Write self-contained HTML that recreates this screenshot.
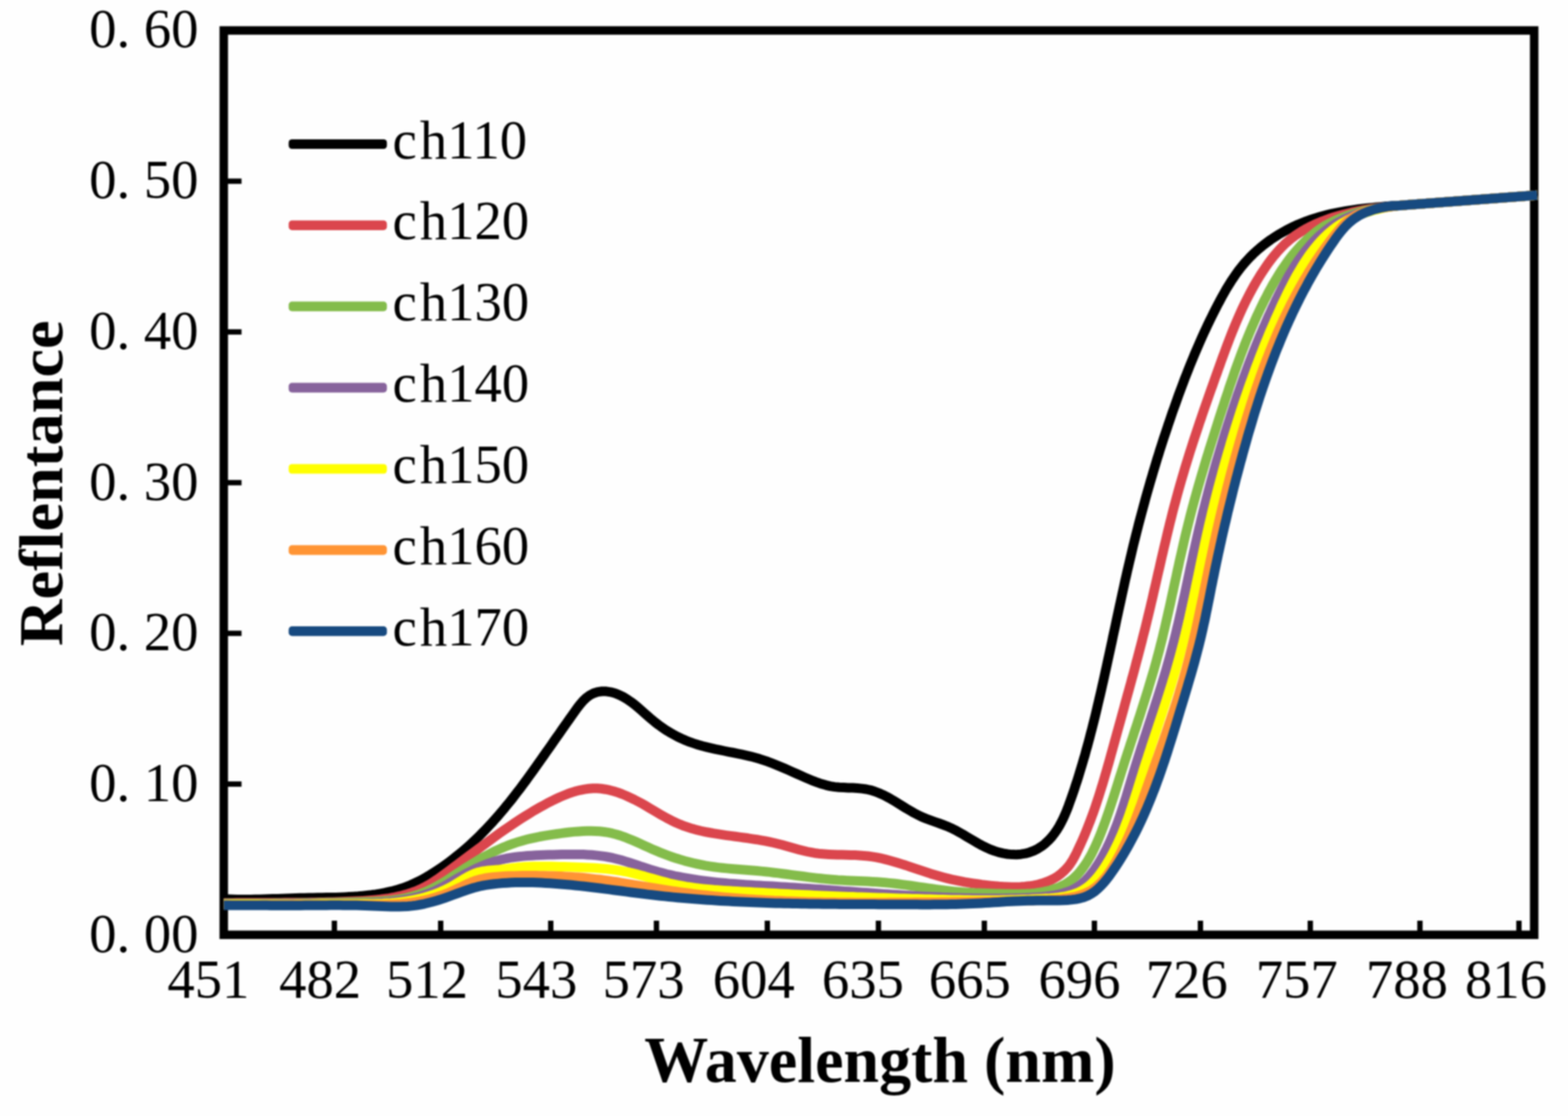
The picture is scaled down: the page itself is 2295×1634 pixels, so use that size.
<!DOCTYPE html>
<html lang="en">
<head>
<meta charset="utf-8">
<title>Reflentance vs Wavelength (nm)</title>
<style>
html,body{margin:0;padding:0;background:#fefefe;}
body{width:2295px;height:1634px;overflow:hidden;}
svg{display:block;filter:blur(0.9px);}
.t{font-family:"Liberation Serif","Noto Serif CJK SC",serif;font-size:80px;fill:#000;}
.b{font-family:"Liberation Serif",serif;font-weight:bold;fill:#000;}
.c path{fill:none;stroke-width:14.0;stroke-linejoin:round;stroke-linecap:butt;}
</style>
</head>
<body>
<svg width="2295" height="1634" viewBox="0 0 2295 1634">
<rect width="2295" height="1634" fill="#fefefe"/>
<rect x="327.5" y="44.6" width="1918.0" height="1324.1000000000001" fill="none" stroke="#000" stroke-width="12.4" stroke-linejoin="miter"/>
<g fill="#000">
<rect x="327.5" y="261.4" width="26" height="7.8"/>
<rect x="327.5" y="482.1" width="26" height="7.8"/>
<rect x="327.5" y="702.8" width="26" height="7.8"/>
<rect x="327.5" y="923.4" width="26" height="7.8"/>
<rect x="327.5" y="1144.1" width="26" height="7.8"/>
<rect x="485.5" y="1348" width="7.8" height="16"/>
<rect x="641.1" y="1348" width="7.8" height="16"/>
<rect x="802.2" y="1348" width="7.8" height="16"/>
<rect x="956.9" y="1348" width="7.8" height="16"/>
<rect x="1119.2" y="1348" width="7.8" height="16"/>
<rect x="1281.8" y="1348" width="7.8" height="16"/>
<rect x="1436.8" y="1348" width="7.8" height="16"/>
<rect x="1597.9" y="1348" width="7.8" height="16"/>
<rect x="1753.1" y="1348" width="7.8" height="16"/>
<rect x="1913.9" y="1348" width="7.8" height="16"/>
<rect x="2074.4" y="1348" width="7.8" height="16"/>
<rect x="2219.3" y="1348" width="7.8" height="16"/>
</g>
<g class="c">
<path d="M327.5 1316.6 L334.1 1316.6 L340.6 1316.8 L347.2 1316.9 L353.8 1317.0 L360.3 1317.0 L366.9 1316.9 L373.4 1316.8 L380.0 1316.7 L386.5 1316.5 L393.1 1316.3 L399.6 1316.1 L406.2 1315.9 L412.7 1315.7 L419.3 1315.4 L425.8 1315.2 L432.4 1315.0 L438.9 1314.8 L445.5 1314.7 L452.1 1314.5 L458.6 1314.4 L465.2 1314.3 L471.7 1314.2 L478.3 1314.1 L484.8 1314.0 L491.4 1313.9 L498.0 1313.7 L504.5 1313.4 L511.1 1313.1 L517.6 1312.7 L524.1 1312.3 L530.7 1311.7 L537.2 1311.0 L543.7 1310.3 L550.2 1309.4 L556.7 1308.3 L563.1 1307.1 L569.6 1305.7 L575.9 1304.2 L582.3 1302.4 L588.5 1300.5 L594.7 1298.3 L600.7 1295.9 L606.7 1293.2 L612.6 1290.4 L618.4 1287.3 L624.2 1284.1 L629.8 1280.8 L635.4 1277.3 L640.9 1273.7 L646.3 1270.0 L651.7 1266.2 L657.0 1262.3 L662.2 1258.4 L667.3 1254.3 L672.4 1250.2 L677.4 1246.0 L682.4 1241.7 L687.3 1237.4 L692.1 1233.0 L696.8 1228.5 L701.5 1223.9 L706.1 1219.3 L710.7 1214.6 L715.2 1209.8 L719.7 1205.0 L724.0 1200.2 L728.4 1195.3 L732.6 1190.3 L736.9 1185.3 L741.0 1180.2 L745.2 1175.1 L749.3 1170.0 L753.3 1164.8 L757.3 1159.6 L761.3 1154.4 L765.2 1149.1 L769.2 1143.8 L773.0 1138.5 L776.9 1133.2 L780.7 1127.9 L784.5 1122.5 L788.3 1117.2 L792.1 1111.8 L795.9 1106.4 L799.6 1101.1 L803.4 1095.7 L807.1 1090.4 L810.8 1085.0 L814.6 1079.7 L818.3 1074.4 L822.0 1069.0 L825.8 1063.7 L829.6 1058.3 L833.4 1052.9 L837.2 1047.5 L841.1 1041.9 L845.1 1036.4 L849.2 1031.1 L853.5 1026.1 L858.2 1021.6 L863.3 1017.9 L868.9 1015.0 L874.8 1013.1 L881.0 1012.2 L887.4 1012.3 L893.8 1013.3 L900.2 1015.0 L906.3 1017.5 L912.2 1020.4 L917.8 1023.7 L923.2 1027.4 L928.5 1031.4 L933.6 1035.7 L938.6 1040.0 L943.6 1044.4 L948.5 1048.8 L953.6 1053.2 L958.7 1057.4 L963.9 1061.4 L969.3 1065.2 L974.7 1068.9 L980.3 1072.3 L985.9 1075.5 L991.6 1078.6 L997.5 1081.4 L1003.4 1084.0 L1009.5 1086.4 L1015.6 1088.5 L1021.8 1090.5 L1028.0 1092.3 L1034.4 1093.9 L1040.7 1095.4 L1047.2 1096.9 L1053.6 1098.2 L1060.1 1099.5 L1066.6 1100.8 L1073.1 1102.0 L1079.5 1103.3 L1086.0 1104.7 L1092.4 1106.1 L1098.8 1107.6 L1105.2 1109.3 L1111.5 1111.1 L1117.7 1113.1 L1123.9 1115.2 L1130.0 1117.5 L1136.1 1119.9 L1142.2 1122.4 L1148.2 1125.0 L1154.2 1127.6 L1160.2 1130.3 L1166.2 1133.0 L1172.2 1135.7 L1178.2 1138.3 L1184.2 1140.9 L1190.3 1143.4 L1196.4 1145.7 L1202.6 1147.8 L1208.9 1149.6 L1215.2 1151.1 L1221.7 1152.1 L1228.3 1152.8 L1234.9 1153.1 L1241.5 1153.4 L1248.1 1153.6 L1254.7 1154.0 L1261.3 1154.6 L1267.7 1155.5 L1274.0 1156.8 L1280.1 1158.7 L1286.1 1161.0 L1292.0 1163.6 L1297.8 1166.5 L1303.6 1169.7 L1309.3 1173.1 L1314.9 1176.5 L1320.5 1180.0 L1326.1 1183.5 L1331.8 1186.8 L1337.5 1190.1 L1343.3 1193.1 L1349.1 1196.0 L1355.2 1198.5 L1361.3 1200.8 L1367.5 1203.0 L1373.7 1205.1 L1379.8 1207.4 L1385.9 1209.7 L1391.9 1212.3 L1397.8 1215.2 L1403.5 1218.3 L1409.2 1221.5 L1414.8 1224.9 L1420.4 1228.2 L1426.0 1231.6 L1431.7 1234.9 L1437.4 1238.0 L1443.3 1240.9 L1449.3 1243.6 L1455.4 1245.9 L1461.7 1247.9 L1468.2 1249.4 L1474.7 1250.5 L1481.3 1251.1 L1487.8 1251.2 L1494.3 1250.7 L1500.7 1249.7 L1507.0 1247.9 L1513.1 1245.6 L1519.0 1242.7 L1524.5 1239.2 L1529.7 1235.2 L1534.5 1230.7 L1539.0 1225.9 L1543.0 1220.8 L1546.7 1215.5 L1550.2 1209.9 L1553.3 1204.2 L1556.2 1198.4 L1558.9 1192.4 L1561.4 1186.4 L1563.8 1180.2 L1566.0 1174.0 L1568.2 1167.8 L1570.4 1161.6 L1572.5 1155.4 L1574.5 1149.1 L1576.6 1142.9 L1578.6 1136.6 L1580.5 1130.3 L1582.4 1124.0 L1584.3 1117.7 L1586.1 1111.5 L1588.0 1105.2 L1589.7 1098.8 L1591.5 1092.5 L1593.2 1086.2 L1594.9 1079.9 L1596.5 1073.5 L1598.2 1067.2 L1599.8 1060.8 L1601.4 1054.5 L1603.0 1048.1 L1604.5 1041.8 L1606.0 1035.4 L1607.5 1029.0 L1609.0 1022.6 L1610.5 1016.3 L1612.0 1009.9 L1613.4 1003.5 L1614.9 997.1 L1616.3 990.7 L1617.7 984.3 L1619.1 977.9 L1620.5 971.5 L1621.9 965.1 L1623.3 958.6 L1624.7 952.2 L1626.1 945.8 L1627.5 939.4 L1628.8 933.0 L1630.2 926.6 L1631.6 920.2 L1633.0 913.7 L1634.3 907.3 L1635.7 900.9 L1637.1 894.5 L1638.5 888.1 L1639.9 881.7 L1641.3 875.2 L1642.7 868.8 L1644.1 862.4 L1645.5 856.0 L1646.9 849.6 L1648.4 843.2 L1649.8 836.8 L1651.3 830.4 L1652.8 824.0 L1654.3 817.6 L1655.8 811.3 L1657.3 804.9 L1658.8 798.5 L1660.4 792.1 L1662.0 785.8 L1663.6 779.4 L1665.2 773.1 L1666.8 766.7 L1668.5 760.4 L1670.2 754.0 L1671.9 747.7 L1673.6 741.4 L1675.3 735.1 L1677.0 728.7 L1678.8 722.4 L1680.6 716.1 L1682.4 709.8 L1684.2 703.5 L1686.1 697.2 L1687.9 691.0 L1689.8 684.7 L1691.7 678.4 L1693.6 672.1 L1695.6 665.9 L1697.5 659.6 L1699.5 653.4 L1701.5 647.2 L1703.5 640.9 L1705.6 634.7 L1707.7 628.5 L1709.7 622.3 L1711.9 616.0 L1714.0 609.8 L1716.1 603.6 L1718.3 597.5 L1720.5 591.3 L1722.7 585.1 L1724.9 578.9 L1727.2 572.8 L1729.5 566.6 L1731.8 560.5 L1734.1 554.3 L1736.5 548.2 L1738.9 542.1 L1741.3 536.0 L1743.8 529.9 L1746.3 523.8 L1748.8 517.8 L1751.4 511.7 L1754.0 505.7 L1756.6 499.7 L1759.3 493.7 L1762.0 487.7 L1764.8 481.8 L1767.5 475.8 L1770.4 469.9 L1773.3 464.0 L1776.2 458.1 L1779.2 452.3 L1782.2 446.4 L1785.3 440.6 L1788.4 434.8 L1791.6 429.1 L1794.8 423.4 L1798.2 417.8 L1801.7 412.2 L1805.3 406.8 L1809.0 401.4 L1812.8 396.1 L1816.8 391.0 L1820.9 386.0 L1825.3 381.1 L1829.8 376.3 L1834.4 371.7 L1839.2 367.3 L1844.2 363.0 L1849.2 358.9 L1854.5 354.9 L1859.8 351.0 L1865.3 347.4 L1870.8 343.8 L1876.5 340.5 L1882.2 337.3 L1888.1 334.3 L1894.0 331.4 L1899.9 328.7 L1906.0 326.2 L1912.1 323.8 L1918.2 321.7 L1924.4 319.6 L1930.6 317.8 L1936.9 316.0 L1943.2 314.4 L1949.5 312.9 L1955.9 311.6 L1962.3 310.3 L1968.8 309.2 L1975.2 308.1 L1981.7 307.2 L1988.2 306.3 L1994.7 305.5 L2001.3 304.7 L2007.8 304.1 L2014.4 303.5 L2021.0 302.9 L2027.6 302.3 L2034.2 301.8 L2048.0 300.9 L2060.0 300.0 L2160.0 292.5 L2250.0 285.8" stroke="#000000"/>
<path d="M327.5 1321.9 L333.8 1321.9 L340.2 1321.9 L346.7 1321.8 L353.1 1321.8 L359.4 1321.8 L365.8 1321.8 L372.2 1321.8 L378.6 1321.7 L384.9 1321.7 L391.3 1321.7 L397.6 1321.7 L404.0 1321.7 L410.3 1321.7 L416.7 1321.6 L423.0 1321.6 L429.3 1321.6 L435.7 1321.5 L442.0 1321.5 L448.3 1321.4 L454.7 1321.3 L461.0 1321.2 L467.4 1321.1 L473.7 1321.0 L480.1 1320.8 L486.5 1320.7 L492.8 1320.5 L499.2 1320.3 L505.6 1320.0 L512.0 1319.8 L518.4 1319.5 L524.9 1319.2 L531.3 1318.9 L537.7 1318.5 L544.1 1318.0 L550.5 1317.4 L556.9 1316.8 L563.2 1316.0 L569.5 1315.1 L575.8 1314.0 L582.0 1312.7 L588.1 1311.3 L594.2 1309.6 L600.1 1307.8 L606.0 1305.7 L611.8 1303.4 L617.5 1300.8 L623.1 1297.9 L628.6 1294.8 L634.0 1291.4 L639.3 1287.9 L644.6 1284.2 L649.8 1280.4 L655.0 1276.6 L660.1 1272.7 L665.3 1268.8 L670.4 1265.0 L675.6 1261.2 L680.7 1257.3 L685.9 1253.5 L691.0 1249.7 L696.1 1245.9 L701.1 1242.1 L706.2 1238.4 L711.3 1234.6 L716.4 1230.8 L721.5 1227.1 L726.6 1223.4 L731.7 1219.7 L736.9 1216.1 L742.1 1212.5 L747.3 1208.9 L752.5 1205.4 L757.8 1201.9 L763.1 1198.4 L768.5 1195.0 L773.9 1191.7 L779.3 1188.3 L784.8 1185.1 L790.4 1181.9 L796.1 1178.8 L801.8 1175.7 L807.6 1172.7 L813.4 1169.9 L819.3 1167.1 L825.3 1164.6 L831.3 1162.2 L837.3 1160.1 L843.4 1158.3 L849.5 1156.8 L855.6 1155.6 L861.7 1154.8 L867.9 1154.3 L874.0 1154.3 L880.1 1154.8 L886.3 1155.7 L892.4 1156.9 L898.4 1158.5 L904.5 1160.4 L910.5 1162.6 L916.5 1165.1 L922.4 1167.8 L928.2 1170.6 L934.0 1173.6 L939.7 1176.7 L945.3 1179.9 L950.8 1183.2 L956.4 1186.5 L961.9 1189.7 L967.3 1192.9 L972.8 1196.0 L978.4 1199.1 L984.0 1201.9 L989.6 1204.6 L995.4 1207.1 L1001.2 1209.4 L1007.2 1211.4 L1013.2 1213.3 L1019.3 1214.9 L1025.5 1216.5 L1031.7 1217.8 L1038.0 1219.0 L1044.3 1220.2 L1050.7 1221.2 L1057.0 1222.2 L1063.4 1223.1 L1069.8 1223.9 L1076.2 1224.8 L1082.5 1225.6 L1088.9 1226.5 L1095.1 1227.3 L1101.4 1228.3 L1107.6 1229.2 L1113.9 1230.3 L1120.0 1231.4 L1126.2 1232.7 L1132.4 1234.0 L1138.5 1235.5 L1144.7 1237.0 L1150.8 1238.7 L1157.0 1240.5 L1163.2 1242.2 L1169.3 1243.9 L1175.5 1245.5 L1181.8 1247.0 L1188.0 1248.2 L1194.3 1249.3 L1200.6 1250.1 L1206.9 1250.6 L1213.3 1251.0 L1219.7 1251.3 L1226.1 1251.5 L1232.5 1251.6 L1238.9 1251.7 L1245.2 1251.9 L1251.6 1252.1 L1257.9 1252.4 L1264.3 1252.9 L1270.5 1253.5 L1276.8 1254.4 L1283.0 1255.4 L1289.2 1256.7 L1295.3 1258.1 L1301.5 1259.7 L1307.6 1261.4 L1313.7 1263.2 L1319.7 1265.1 L1325.8 1267.0 L1331.9 1269.1 L1337.9 1271.1 L1344.0 1273.2 L1350.1 1275.2 L1356.1 1277.2 L1362.2 1279.2 L1368.3 1281.0 L1374.5 1282.8 L1380.6 1284.5 L1386.8 1286.1 L1393.0 1287.6 L1399.2 1288.9 L1405.5 1290.2 L1411.7 1291.4 L1418.0 1292.4 L1424.3 1293.4 L1430.6 1294.3 L1436.9 1295.2 L1443.2 1295.9 L1449.5 1296.6 L1455.8 1297.2 L1462.1 1297.8 L1468.4 1298.2 L1474.7 1298.5 L1481.0 1298.7 L1487.4 1298.7 L1493.8 1298.5 L1500.2 1298.0 L1506.6 1297.3 L1513.0 1296.3 L1519.4 1295.0 L1525.6 1293.3 L1531.7 1291.2 L1537.6 1288.8 L1543.2 1285.9 L1548.6 1282.6 L1553.6 1278.7 L1558.2 1274.5 L1562.5 1269.9 L1566.3 1264.9 L1569.8 1259.6 L1572.9 1254.0 L1575.8 1248.3 L1578.5 1242.6 L1581.2 1236.8 L1583.8 1231.0 L1586.4 1225.2 L1588.8 1219.3 L1591.2 1213.4 L1593.5 1207.5 L1595.8 1201.6 L1598.0 1195.6 L1600.2 1189.7 L1602.3 1183.7 L1604.3 1177.7 L1606.3 1171.6 L1608.3 1165.6 L1610.2 1159.5 L1612.1 1153.4 L1614.0 1147.3 L1615.8 1141.2 L1617.6 1135.1 L1619.4 1129.0 L1621.1 1122.9 L1622.9 1116.7 L1624.6 1110.6 L1626.3 1104.4 L1628.0 1098.3 L1629.7 1092.1 L1631.4 1086.0 L1633.1 1079.8 L1634.8 1073.7 L1636.5 1067.5 L1638.2 1061.4 L1639.9 1055.3 L1641.6 1049.1 L1643.3 1043.0 L1645.0 1036.9 L1646.6 1030.7 L1648.3 1024.6 L1650.0 1018.4 L1651.7 1012.3 L1653.4 1006.2 L1655.1 1000.0 L1656.7 993.9 L1658.4 987.8 L1660.1 981.6 L1661.7 975.5 L1663.3 969.3 L1665.0 963.2 L1666.6 957.0 L1668.2 950.9 L1669.8 944.7 L1671.4 938.6 L1672.9 932.4 L1674.5 926.2 L1676.1 920.1 L1677.6 913.9 L1679.1 907.7 L1680.6 901.5 L1682.1 895.3 L1683.6 889.2 L1685.0 883.0 L1686.5 876.8 L1687.9 870.6 L1689.3 864.4 L1690.8 858.2 L1692.2 851.9 L1693.6 845.7 L1695.0 839.5 L1696.5 833.3 L1697.9 827.1 L1699.3 820.9 L1700.7 814.7 L1702.2 808.5 L1703.6 802.3 L1705.1 796.1 L1706.6 789.9 L1708.0 783.7 L1709.5 777.5 L1711.0 771.3 L1712.5 765.1 L1714.1 759.0 L1715.6 752.8 L1717.2 746.6 L1718.8 740.5 L1720.5 734.3 L1722.1 728.2 L1723.8 722.0 L1725.5 715.9 L1727.2 709.8 L1729.0 703.6 L1730.8 697.5 L1732.6 691.4 L1734.4 685.3 L1736.3 679.2 L1738.1 673.2 L1740.0 667.1 L1741.9 661.0 L1743.9 654.9 L1745.8 648.9 L1747.8 642.8 L1749.8 636.8 L1751.8 630.7 L1753.8 624.7 L1755.8 618.6 L1757.9 612.6 L1759.9 606.6 L1762.0 600.5 L1764.1 594.5 L1766.2 588.5 L1768.3 582.5 L1770.4 576.5 L1772.5 570.5 L1774.7 564.5 L1776.8 558.5 L1778.9 552.5 L1781.1 546.5 L1783.2 540.5 L1785.4 534.5 L1787.5 528.5 L1789.7 522.5 L1791.9 516.6 L1794.1 510.6 L1796.3 504.7 L1798.6 498.7 L1800.9 492.8 L1803.2 486.9 L1805.6 481.0 L1808.0 475.1 L1810.5 469.3 L1813.0 463.5 L1815.6 457.7 L1818.2 451.9 L1820.9 446.2 L1823.7 440.5 L1826.6 434.8 L1829.5 429.2 L1832.5 423.6 L1835.6 418.0 L1838.8 412.5 L1842.1 407.0 L1845.5 401.6 L1849.0 396.2 L1852.6 390.9 L1856.3 385.6 L1860.1 380.4 L1864.1 375.3 L1868.2 370.4 L1872.5 365.6 L1876.9 361.0 L1881.4 356.6 L1886.2 352.4 L1891.1 348.4 L1896.1 344.6 L1901.4 341.1 L1906.7 337.8 L1912.2 334.7 L1917.8 331.8 L1923.5 329.0 L1929.3 326.4 L1935.1 324.0 L1941.1 321.8 L1947.0 319.7 L1953.0 317.7 L1959.1 315.9 L1965.2 314.2 L1971.3 312.7 L1977.5 311.2 L1983.6 309.9 L1989.9 308.6 L1996.1 307.5 L2002.4 306.4 L2008.7 305.5 L2015.0 304.6 L2021.3 303.8 L2027.7 303.0 L2034.1 302.3 L2048.0 300.9 L2060.0 300.0 L2160.0 292.5 L2250.0 285.8" stroke="#DB464D"/>
<path d="M327.5 1322.7 L333.7 1322.6 L340.1 1322.7 L346.4 1322.7 L352.8 1322.7 L359.1 1322.8 L365.4 1322.8 L371.7 1322.8 L378.0 1322.8 L384.3 1322.7 L390.6 1322.7 L396.9 1322.7 L403.1 1322.6 L409.4 1322.6 L415.7 1322.5 L421.9 1322.4 L428.2 1322.4 L434.4 1322.3 L440.7 1322.2 L446.9 1322.1 L453.2 1322.0 L459.5 1321.9 L465.7 1321.8 L472.0 1321.7 L478.3 1321.6 L484.6 1321.5 L490.9 1321.4 L497.2 1321.3 L503.5 1321.2 L509.9 1321.0 L516.2 1320.9 L522.6 1320.8 L529.0 1320.7 L535.3 1320.5 L541.7 1320.3 L548.1 1320.1 L554.5 1319.7 L560.8 1319.3 L567.1 1318.7 L573.4 1318.1 L579.6 1317.3 L585.8 1316.3 L591.9 1315.2 L597.9 1313.8 L603.9 1312.3 L609.8 1310.6 L615.6 1308.6 L621.4 1306.3 L627.0 1303.8 L632.6 1301.1 L638.1 1298.2 L643.5 1295.1 L648.9 1291.9 L654.3 1288.6 L659.6 1285.2 L664.9 1281.7 L670.2 1278.2 L675.6 1274.7 L680.9 1271.2 L686.2 1267.8 L691.6 1264.4 L697.0 1261.1 L702.5 1257.9 L708.0 1254.8 L713.5 1251.8 L719.1 1248.9 L724.7 1246.1 L730.3 1243.5 L736.0 1241.0 L741.8 1238.6 L747.6 1236.4 L753.5 1234.3 L759.4 1232.4 L765.4 1230.7 L771.5 1229.1 L777.6 1227.6 L783.7 1226.3 L789.9 1225.0 L796.1 1223.9 L802.3 1222.9 L808.6 1221.9 L814.9 1221.0 L821.2 1220.1 L827.5 1219.3 L833.9 1218.5 L840.2 1217.9 L846.5 1217.4 L852.8 1217.0 L859.1 1216.8 L865.4 1216.7 L871.7 1216.9 L877.9 1217.3 L884.0 1218.0 L890.1 1218.9 L896.2 1220.2 L902.2 1221.7 L908.1 1223.5 L914.0 1225.6 L919.9 1227.9 L925.7 1230.3 L931.5 1232.8 L937.3 1235.4 L943.1 1238.1 L948.9 1240.7 L954.7 1243.3 L960.6 1245.8 L966.4 1248.2 L972.3 1250.5 L978.2 1252.7 L984.1 1254.8 L990.1 1256.8 L996.0 1258.6 L1002.0 1260.4 L1008.1 1262.0 L1014.1 1263.5 L1020.2 1264.9 L1026.3 1266.2 L1032.5 1267.4 L1038.6 1268.4 L1044.8 1269.3 L1051.1 1270.1 L1057.3 1270.8 L1063.6 1271.4 L1069.9 1272.0 L1076.2 1272.5 L1082.5 1273.0 L1088.8 1273.5 L1095.1 1274.0 L1101.4 1274.5 L1107.7 1275.0 L1114.0 1275.6 L1120.3 1276.2 L1126.6 1276.9 L1132.8 1277.7 L1139.1 1278.4 L1145.3 1279.2 L1151.6 1280.0 L1157.8 1280.9 L1164.0 1281.7 L1170.2 1282.5 L1176.5 1283.3 L1182.7 1284.1 L1188.9 1284.9 L1195.2 1285.6 L1201.4 1286.3 L1207.6 1286.9 L1213.9 1287.5 L1220.2 1288.0 L1226.4 1288.5 L1232.7 1288.8 L1239.0 1289.2 L1245.2 1289.5 L1251.5 1289.8 L1257.8 1290.0 L1264.1 1290.3 L1270.4 1290.6 L1276.7 1291.0 L1283.0 1291.3 L1289.3 1291.8 L1295.5 1292.3 L1301.8 1292.9 L1308.1 1293.5 L1314.3 1294.3 L1320.6 1295.1 L1326.8 1295.9 L1333.1 1296.8 L1339.3 1297.7 L1345.6 1298.6 L1351.8 1299.5 L1358.1 1300.4 L1364.3 1301.3 L1370.5 1302.2 L1376.8 1303.0 L1383.0 1303.8 L1389.2 1304.5 L1395.5 1305.2 L1401.7 1305.8 L1408.0 1306.3 L1414.2 1306.7 L1420.5 1307.1 L1426.7 1307.4 L1433.0 1307.6 L1439.3 1307.8 L1445.6 1308.0 L1451.9 1308.2 L1458.2 1308.4 L1464.5 1308.5 L1470.8 1308.7 L1477.2 1308.8 L1483.5 1308.9 L1489.9 1308.9 L1496.2 1308.8 L1502.5 1308.6 L1508.8 1308.2 L1515.1 1307.6 L1521.3 1306.8 L1527.5 1305.7 L1533.6 1304.4 L1539.7 1302.7 L1545.6 1300.7 L1551.4 1298.4 L1557.1 1295.7 L1562.4 1292.6 L1567.5 1289.1 L1572.3 1285.1 L1576.7 1280.8 L1580.8 1276.1 L1584.7 1271.1 L1588.3 1266.0 L1591.7 1260.8 L1594.9 1255.3 L1597.9 1249.8 L1600.7 1244.1 L1603.4 1238.4 L1606.0 1232.6 L1608.5 1226.7 L1610.9 1220.8 L1613.2 1214.9 L1615.4 1209.0 L1617.6 1203.1 L1619.7 1197.1 L1621.8 1191.2 L1623.8 1185.2 L1625.8 1179.3 L1627.7 1173.3 L1629.7 1167.3 L1631.6 1161.4 L1633.5 1155.4 L1635.4 1149.4 L1637.2 1143.4 L1639.1 1137.5 L1641.0 1131.5 L1642.9 1125.5 L1644.8 1119.5 L1646.7 1113.5 L1648.7 1107.6 L1650.6 1101.6 L1652.6 1095.6 L1654.5 1089.6 L1656.5 1083.6 L1658.5 1077.6 L1660.4 1071.7 L1662.4 1065.7 L1664.4 1059.7 L1666.3 1053.7 L1668.3 1047.7 L1670.2 1041.7 L1672.1 1035.7 L1674.0 1029.7 L1675.9 1023.7 L1677.8 1017.7 L1679.7 1011.6 L1681.5 1005.6 L1683.3 999.6 L1685.1 993.5 L1686.9 987.5 L1688.7 981.5 L1690.4 975.4 L1692.1 969.3 L1693.7 963.3 L1695.4 957.2 L1697.0 951.1 L1698.5 945.0 L1700.1 938.9 L1701.6 932.8 L1703.0 926.7 L1704.5 920.6 L1705.9 914.5 L1707.3 908.4 L1708.7 902.3 L1710.1 896.1 L1711.5 890.0 L1712.9 883.9 L1714.2 877.7 L1715.5 871.6 L1716.9 865.4 L1718.2 859.3 L1719.5 853.2 L1720.9 847.0 L1722.2 840.9 L1723.5 834.7 L1724.9 828.6 L1726.2 822.4 L1727.6 816.3 L1729.0 810.2 L1730.4 804.0 L1731.8 797.9 L1733.2 791.8 L1734.6 785.6 L1736.1 779.5 L1737.6 773.4 L1739.1 767.3 L1740.7 761.1 L1742.2 755.0 L1743.8 748.9 L1745.4 742.8 L1747.1 736.7 L1748.7 730.6 L1750.4 724.6 L1752.1 718.5 L1753.8 712.4 L1755.6 706.3 L1757.3 700.3 L1759.1 694.2 L1760.9 688.2 L1762.7 682.1 L1764.5 676.1 L1766.3 670.0 L1768.2 664.0 L1770.0 658.0 L1771.9 652.0 L1773.8 646.0 L1775.7 640.0 L1777.6 634.0 L1779.5 628.0 L1781.4 622.0 L1783.3 616.0 L1785.2 610.0 L1787.2 604.1 L1789.1 598.1 L1791.1 592.2 L1793.0 586.2 L1795.0 580.3 L1797.0 574.4 L1798.9 568.4 L1800.9 562.5 L1803.0 556.6 L1805.0 550.7 L1807.0 544.8 L1809.1 539.0 L1811.2 533.1 L1813.4 527.2 L1815.5 521.4 L1817.7 515.5 L1820.0 509.7 L1822.2 503.8 L1824.5 498.0 L1826.9 492.2 L1829.3 486.4 L1831.8 480.5 L1834.3 474.8 L1836.8 469.0 L1839.4 463.2 L1842.1 457.4 L1844.8 451.6 L1847.6 445.9 L1850.4 440.1 L1853.4 434.4 L1856.3 428.7 L1859.4 423.0 L1862.5 417.4 L1865.8 411.8 L1869.1 406.3 L1872.4 400.8 L1875.9 395.4 L1879.5 390.1 L1883.1 384.9 L1886.9 379.8 L1890.7 374.8 L1894.7 370.0 L1898.8 365.2 L1902.9 360.6 L1907.2 356.2 L1911.6 351.9 L1916.1 347.7 L1920.8 343.8 L1925.5 340.0 L1930.4 336.4 L1935.4 333.0 L1940.6 329.8 L1945.9 326.9 L1951.3 324.1 L1956.8 321.6 L1962.4 319.2 L1968.2 317.0 L1974.0 315.0 L1980.0 313.1 L1986.0 311.4 L1992.1 309.8 L1998.3 308.4 L2004.5 307.1 L2010.8 305.9 L2017.1 304.9 L2023.5 303.9 L2029.9 303.0 L2036.3 302.2 L2048.0 300.9 L2060.0 300.0 L2160.0 292.5 L2250.0 285.8" stroke="#84BC4B"/>
<path d="M327.5 1323.4 L333.8 1323.3 L340.1 1323.4 L346.4 1323.5 L352.7 1323.5 L359.0 1323.5 L365.2 1323.6 L371.5 1323.6 L377.8 1323.5 L384.1 1323.5 L390.3 1323.5 L396.6 1323.4 L402.8 1323.4 L409.1 1323.3 L415.4 1323.2 L421.6 1323.2 L427.9 1323.1 L434.1 1323.0 L440.4 1323.0 L446.7 1322.9 L452.9 1322.8 L459.2 1322.8 L465.5 1322.7 L471.7 1322.7 L478.0 1322.6 L484.3 1322.6 L490.6 1322.6 L496.9 1322.6 L503.2 1322.6 L509.5 1322.6 L515.9 1322.6 L522.2 1322.5 L528.5 1322.5 L534.8 1322.4 L541.1 1322.2 L547.4 1322.0 L553.6 1321.7 L559.9 1321.3 L566.2 1320.8 L572.4 1320.2 L578.6 1319.5 L584.8 1318.7 L591.0 1317.7 L597.1 1316.6 L603.2 1315.3 L609.3 1313.9 L615.3 1312.2 L621.2 1310.4 L627.1 1308.4 L632.9 1306.1 L638.6 1303.6 L644.1 1300.8 L649.6 1297.9 L655.1 1294.7 L660.5 1291.5 L665.9 1288.3 L671.4 1285.1 L676.9 1282.0 L682.5 1279.0 L688.1 1276.1 L693.7 1273.3 L699.4 1270.6 L705.2 1268.1 L711.0 1265.7 L716.8 1263.6 L722.8 1261.6 L728.7 1259.9 L734.7 1258.3 L740.8 1257.0 L746.9 1255.9 L753.1 1255.0 L759.3 1254.2 L765.5 1253.6 L771.8 1253.1 L778.0 1252.7 L784.3 1252.3 L790.7 1252.1 L797.0 1251.8 L803.3 1251.6 L809.7 1251.4 L816.0 1251.3 L822.3 1251.1 L828.6 1251.0 L834.9 1250.9 L841.2 1250.9 L847.5 1251.0 L853.8 1251.1 L860.1 1251.4 L866.3 1251.8 L872.5 1252.4 L878.7 1253.1 L884.8 1253.9 L891.0 1255.0 L897.1 1256.2 L903.1 1257.7 L909.2 1259.3 L915.2 1261.1 L921.2 1263.0 L927.2 1264.9 L933.2 1266.9 L939.2 1269.0 L945.2 1270.9 L951.2 1272.9 L957.2 1274.7 L963.2 1276.5 L969.3 1278.1 L975.4 1279.7 L981.5 1281.1 L987.6 1282.5 L993.7 1283.7 L999.8 1284.9 L1006.0 1286.0 L1012.1 1287.0 L1018.3 1288.0 L1024.5 1288.9 L1030.7 1289.7 L1036.9 1290.5 L1043.1 1291.2 L1049.3 1291.9 L1055.6 1292.5 L1061.8 1293.0 L1068.0 1293.6 L1074.3 1294.1 L1080.5 1294.5 L1086.8 1295.0 L1093.1 1295.4 L1099.3 1295.8 L1105.6 1296.2 L1111.9 1296.5 L1118.2 1296.9 L1124.4 1297.3 L1130.7 1297.6 L1137.0 1298.0 L1143.3 1298.4 L1149.5 1298.8 L1155.8 1299.2 L1162.1 1299.6 L1168.4 1300.0 L1174.6 1300.4 L1180.9 1300.8 L1187.2 1301.3 L1193.4 1301.7 L1199.7 1302.1 L1205.9 1302.6 L1212.2 1303.0 L1218.5 1303.5 L1224.7 1303.9 L1231.0 1304.4 L1237.2 1304.9 L1243.5 1305.3 L1249.8 1305.8 L1256.0 1306.2 L1262.3 1306.7 L1268.5 1307.1 L1274.8 1307.6 L1281.1 1308.0 L1287.3 1308.5 L1293.6 1308.9 L1299.8 1309.3 L1306.1 1309.7 L1312.4 1310.1 L1318.6 1310.5 L1324.9 1310.9 L1331.1 1311.3 L1337.4 1311.7 L1343.7 1312.0 L1349.9 1312.4 L1356.2 1312.7 L1362.4 1313.0 L1368.7 1313.3 L1375.0 1313.6 L1381.2 1313.9 L1387.5 1314.1 L1393.8 1314.4 L1400.1 1314.6 L1406.3 1314.8 L1412.6 1315.0 L1418.9 1315.1 L1425.1 1315.2 L1431.4 1315.3 L1437.7 1315.4 L1444.0 1315.5 L1450.2 1315.5 L1456.5 1315.5 L1462.8 1315.5 L1469.1 1315.4 L1475.3 1315.3 L1481.6 1315.2 L1487.9 1315.1 L1494.2 1314.9 L1500.5 1314.7 L1506.8 1314.4 L1513.0 1314.1 L1519.3 1313.7 L1525.6 1313.2 L1531.9 1312.5 L1538.1 1311.6 L1544.4 1310.6 L1550.6 1309.3 L1556.7 1307.7 L1562.7 1305.7 L1568.5 1303.4 L1574.0 1300.6 L1579.1 1297.2 L1583.9 1293.5 L1588.5 1289.3 L1592.7 1284.9 L1596.7 1280.1 L1600.5 1275.1 L1604.1 1269.8 L1607.5 1264.5 L1610.8 1259.1 L1613.9 1253.6 L1616.8 1248.0 L1619.7 1242.4 L1622.4 1236.8 L1625.0 1231.1 L1627.5 1225.3 L1629.9 1219.5 L1632.2 1213.7 L1634.5 1207.9 L1636.6 1202.0 L1638.7 1196.1 L1640.7 1190.2 L1642.7 1184.2 L1644.6 1178.3 L1646.5 1172.3 L1648.4 1166.3 L1650.2 1160.3 L1652.0 1154.3 L1653.8 1148.2 L1655.6 1142.2 L1657.4 1136.2 L1659.3 1130.2 L1661.1 1124.2 L1663.0 1118.2 L1664.9 1112.2 L1666.8 1106.2 L1668.7 1100.2 L1670.6 1094.2 L1672.6 1088.2 L1674.5 1082.2 L1676.5 1076.2 L1678.4 1070.3 L1680.4 1064.3 L1682.3 1058.3 L1684.3 1052.4 L1686.2 1046.4 L1688.2 1040.4 L1690.1 1034.4 L1692.0 1028.5 L1693.9 1022.5 L1695.8 1016.5 L1697.7 1010.5 L1699.6 1004.5 L1701.4 998.5 L1703.2 992.5 L1705.0 986.5 L1706.8 980.5 L1708.5 974.5 L1710.2 968.5 L1711.9 962.4 L1713.5 956.4 L1715.1 950.3 L1716.7 944.3 L1718.3 938.2 L1719.8 932.1 L1721.3 926.0 L1722.7 919.9 L1724.2 913.9 L1725.6 907.8 L1727.0 901.6 L1728.4 895.5 L1729.7 889.4 L1731.1 883.3 L1732.4 877.2 L1733.8 871.1 L1735.1 864.9 L1736.4 858.8 L1737.7 852.7 L1739.0 846.5 L1740.3 840.4 L1741.6 834.2 L1742.9 828.1 L1744.3 822.0 L1745.6 815.8 L1746.9 809.7 L1748.3 803.5 L1749.6 797.4 L1751.0 791.3 L1752.4 785.1 L1753.8 779.0 L1755.2 772.9 L1756.7 766.8 L1758.1 760.6 L1759.6 754.5 L1761.1 748.4 L1762.7 742.3 L1764.2 736.2 L1765.8 730.1 L1767.4 724.0 L1769.0 717.9 L1770.6 711.8 L1772.2 705.7 L1773.9 699.7 L1775.6 693.6 L1777.3 687.5 L1779.0 681.5 L1780.7 675.4 L1782.5 669.4 L1784.3 663.4 L1786.1 657.4 L1787.9 651.4 L1789.7 645.4 L1791.5 639.4 L1793.4 633.4 L1795.3 627.4 L1797.2 621.5 L1799.1 615.5 L1801.0 609.6 L1802.9 603.6 L1804.9 597.7 L1806.8 591.8 L1808.8 585.9 L1810.8 580.0 L1812.8 574.2 L1814.9 568.3 L1816.9 562.5 L1819.0 556.6 L1821.1 550.8 L1823.3 544.9 L1825.4 539.1 L1827.6 533.3 L1829.8 527.5 L1832.0 521.7 L1834.3 515.9 L1836.6 510.1 L1839.0 504.3 L1841.3 498.5 L1843.7 492.7 L1846.2 486.9 L1848.6 481.1 L1851.2 475.3 L1853.7 469.5 L1856.3 463.7 L1859.0 457.9 L1861.6 452.1 L1864.4 446.3 L1867.1 440.5 L1870.0 434.7 L1872.9 428.9 L1875.8 423.2 L1878.8 417.5 L1881.9 411.8 L1885.0 406.1 L1888.2 400.6 L1891.6 395.1 L1894.9 389.6 L1898.4 384.3 L1902.0 379.1 L1905.7 374.0 L1909.5 369.0 L1913.4 364.2 L1917.4 359.5 L1921.5 354.9 L1925.7 350.5 L1930.1 346.3 L1934.6 342.3 L1939.3 338.4 L1944.1 334.8 L1949.0 331.3 L1954.1 328.1 L1959.3 325.2 L1964.7 322.4 L1970.2 319.8 L1975.8 317.4 L1981.5 315.2 L1987.3 313.2 L1993.3 311.4 L1999.3 309.7 L2005.4 308.1 L2011.5 306.7 L2017.8 305.4 L2024.0 304.3 L2030.4 303.2 L2036.7 302.3 L2048.0 300.9 L2060.0 300.0 L2160.0 292.5 L2250.0 285.8" stroke="#87639C"/>
<path d="M327.5 1324.2 L333.8 1324.2 L340.0 1324.1 L346.3 1324.1 L352.6 1324.1 L358.8 1324.1 L365.1 1324.1 L371.4 1324.1 L377.7 1324.1 L384.0 1324.2 L390.2 1324.2 L396.5 1324.2 L402.8 1324.2 L409.1 1324.2 L415.4 1324.2 L421.6 1324.2 L427.9 1324.2 L434.2 1324.1 L440.4 1324.0 L446.7 1323.9 L452.9 1323.9 L459.2 1323.8 L465.5 1323.7 L471.7 1323.6 L478.0 1323.6 L484.3 1323.5 L490.5 1323.5 L496.8 1323.5 L503.1 1323.5 L509.4 1323.6 L515.7 1323.6 L522.0 1323.6 L528.3 1323.6 L534.6 1323.6 L540.9 1323.5 L547.2 1323.4 L553.4 1323.2 L559.7 1323.0 L566.0 1322.6 L572.2 1322.2 L578.4 1321.6 L584.6 1320.9 L590.8 1320.1 L597.0 1319.2 L603.2 1318.1 L609.3 1316.9 L615.4 1315.5 L621.4 1313.9 L627.4 1312.1 L633.4 1310.2 L639.3 1308.0 L645.1 1305.7 L650.8 1303.1 L656.5 1300.4 L662.0 1297.4 L667.5 1294.1 L672.9 1290.8 L678.3 1287.4 L683.7 1284.3 L689.2 1281.4 L694.8 1278.9 L700.6 1277.0 L706.6 1275.7 L712.7 1274.8 L718.9 1274.3 L725.2 1273.8 L731.5 1273.2 L737.8 1272.4 L744.1 1271.6 L750.4 1270.8 L756.6 1270.1 L762.9 1269.6 L769.1 1269.1 L775.4 1268.8 L781.6 1268.6 L787.8 1268.5 L794.1 1268.5 L800.3 1268.5 L806.5 1268.6 L812.8 1268.8 L819.0 1268.9 L825.3 1269.1 L831.6 1269.3 L837.8 1269.5 L844.1 1269.7 L850.4 1270.0 L856.7 1270.2 L863.0 1270.5 L869.3 1270.8 L875.6 1271.3 L881.9 1271.7 L888.1 1272.3 L894.4 1273.0 L900.6 1273.8 L906.8 1274.7 L912.9 1275.8 L919.1 1277.0 L925.2 1278.4 L931.3 1279.9 L937.3 1281.5 L943.3 1283.1 L949.4 1284.9 L955.4 1286.6 L961.4 1288.3 L967.4 1290.0 L973.5 1291.6 L979.5 1293.2 L985.6 1294.6 L991.8 1295.9 L997.9 1297.0 L1004.1 1298.1 L1010.2 1299.0 L1016.4 1299.9 L1022.7 1300.7 L1028.9 1301.4 L1035.1 1302.0 L1041.4 1302.5 L1047.7 1303.1 L1053.9 1303.5 L1060.2 1303.9 L1066.5 1304.3 L1072.8 1304.7 L1079.0 1305.0 L1085.3 1305.4 L1091.6 1305.7 L1097.9 1306.0 L1104.1 1306.4 L1110.4 1306.7 L1116.6 1307.1 L1122.9 1307.4 L1129.1 1307.8 L1135.3 1308.1 L1141.6 1308.4 L1147.8 1308.8 L1154.1 1309.1 L1160.3 1309.4 L1166.6 1309.7 L1172.9 1310.0 L1179.1 1310.3 L1185.4 1310.6 L1191.7 1310.9 L1197.9 1311.2 L1204.2 1311.4 L1210.5 1311.7 L1216.8 1311.9 L1223.0 1312.2 L1229.3 1312.4 L1235.6 1312.7 L1241.9 1312.9 L1248.2 1313.1 L1254.5 1313.4 L1260.8 1313.6 L1267.0 1313.8 L1273.3 1314.0 L1279.6 1314.2 L1285.9 1314.4 L1292.2 1314.6 L1298.5 1314.8 L1304.7 1315.0 L1311.0 1315.2 L1317.3 1315.4 L1323.6 1315.6 L1329.8 1315.7 L1336.1 1315.9 L1342.4 1316.1 L1348.6 1316.3 L1354.9 1316.4 L1361.1 1316.6 L1367.4 1316.8 L1373.6 1316.9 L1379.8 1317.1 L1386.1 1317.2 L1392.3 1317.4 L1398.6 1317.5 L1404.8 1317.6 L1411.0 1317.7 L1417.3 1317.8 L1423.5 1317.9 L1429.8 1317.9 L1436.0 1318.0 L1442.3 1318.0 L1448.6 1318.0 L1454.8 1317.9 L1461.1 1317.9 L1467.4 1317.8 L1473.7 1317.7 L1480.0 1317.6 L1486.3 1317.5 L1492.6 1317.3 L1498.9 1317.1 L1505.3 1316.9 L1511.6 1316.6 L1518.0 1316.3 L1524.3 1316.0 L1530.7 1315.6 L1537.1 1315.2 L1543.5 1314.6 L1549.8 1313.9 L1556.0 1313.0 L1562.1 1311.8 L1568.0 1310.3 L1573.7 1308.5 L1579.3 1306.2 L1584.6 1303.4 L1589.6 1300.2 L1594.4 1296.5 L1598.9 1292.3 L1603.2 1287.8 L1607.3 1283.0 L1611.1 1278.0 L1614.8 1272.7 L1618.3 1267.3 L1621.7 1261.8 L1624.9 1256.3 L1628.0 1250.7 L1630.9 1245.0 L1633.7 1239.4 L1636.4 1233.7 L1639.0 1227.9 L1641.5 1222.2 L1643.9 1216.4 L1646.2 1210.6 L1648.4 1204.7 L1650.6 1198.9 L1652.7 1193.0 L1654.7 1187.1 L1656.7 1181.2 L1658.6 1175.2 L1660.5 1169.3 L1662.4 1163.3 L1664.3 1157.4 L1666.1 1151.4 L1668.0 1145.4 L1669.8 1139.5 L1671.7 1133.5 L1673.5 1127.5 L1675.4 1121.5 L1677.3 1115.6 L1679.3 1109.6 L1681.2 1103.6 L1683.2 1097.7 L1685.1 1091.7 L1687.1 1085.7 L1689.1 1079.8 L1691.1 1073.8 L1693.1 1067.8 L1695.0 1061.9 L1697.0 1055.9 L1699.0 1049.9 L1701.0 1044.0 L1702.9 1038.0 L1704.9 1032.0 L1706.8 1026.0 L1708.7 1020.0 L1710.6 1014.1 L1712.5 1008.1 L1714.4 1002.1 L1716.2 996.1 L1718.1 990.0 L1719.9 984.0 L1721.6 978.0 L1723.3 972.0 L1725.0 966.0 L1726.7 959.9 L1728.3 953.9 L1729.9 947.8 L1731.5 941.8 L1733.0 935.7 L1734.5 929.6 L1735.9 923.5 L1737.4 917.4 L1738.8 911.4 L1740.2 905.3 L1741.5 899.2 L1742.9 893.0 L1744.2 886.9 L1745.6 880.8 L1746.9 874.7 L1748.2 868.6 L1749.5 862.5 L1750.7 856.3 L1752.0 850.2 L1753.3 844.1 L1754.6 837.9 L1755.8 831.8 L1757.1 825.7 L1758.4 819.5 L1759.7 813.4 L1761.0 807.3 L1762.3 801.1 L1763.6 795.0 L1765.0 788.8 L1766.3 782.7 L1767.7 776.6 L1769.1 770.4 L1770.5 764.3 L1772.0 758.2 L1773.4 752.0 L1774.9 745.9 L1776.4 739.8 L1777.9 733.7 L1779.5 727.6 L1781.0 721.5 L1782.6 715.3 L1784.2 709.3 L1785.8 703.2 L1787.5 697.1 L1789.1 691.0 L1790.8 684.9 L1792.5 678.9 L1794.2 672.8 L1795.9 666.8 L1797.7 660.7 L1799.5 654.7 L1801.2 648.7 L1803.0 642.7 L1804.9 636.7 L1806.7 630.7 L1808.6 624.7 L1810.4 618.8 L1812.3 612.8 L1814.2 606.9 L1816.1 601.0 L1818.1 595.1 L1820.0 589.2 L1822.0 583.3 L1824.0 577.4 L1826.0 571.6 L1828.0 565.7 L1830.1 559.9 L1832.2 554.1 L1834.3 548.3 L1836.4 542.5 L1838.5 536.7 L1840.7 530.9 L1842.9 525.1 L1845.1 519.3 L1847.4 513.5 L1849.7 507.7 L1852.0 501.9 L1854.4 496.1 L1856.8 490.3 L1859.2 484.5 L1861.7 478.7 L1864.2 472.9 L1866.7 467.1 L1869.3 461.3 L1871.9 455.5 L1874.5 449.6 L1877.2 443.8 L1880.0 437.9 L1882.8 432.1 L1885.6 426.2 L1888.6 420.4 L1891.5 414.7 L1894.6 408.9 L1897.7 403.2 L1900.9 397.6 L1904.2 392.1 L1907.5 386.6 L1911.0 381.3 L1914.6 376.0 L1918.2 370.9 L1922.0 365.9 L1925.9 361.1 L1929.8 356.4 L1934.0 351.8 L1938.2 347.5 L1942.6 343.3 L1947.1 339.3 L1951.7 335.5 L1956.5 331.9 L1961.5 328.6 L1966.6 325.5 L1971.8 322.6 L1977.2 319.9 L1982.7 317.4 L1988.3 315.1 L1994.0 312.9 L1999.8 311.0 L2005.7 309.2 L2011.8 307.6 L2017.8 306.1 L2024.0 304.7 L2030.2 303.5 L2036.5 302.4 L2048.0 300.9 L2060.0 300.0 L2160.0 292.5 L2250.0 285.8" stroke="#FFFF00"/>
<path d="M327.5 1324.9 L333.8 1324.9 L340.0 1324.9 L346.3 1324.9 L352.6 1325.0 L358.9 1325.0 L365.1 1325.0 L371.4 1325.0 L377.7 1325.0 L383.9 1325.0 L390.2 1325.0 L396.5 1324.9 L402.7 1324.9 L409.0 1324.9 L415.3 1324.9 L421.5 1324.9 L427.8 1324.8 L434.0 1324.8 L440.3 1324.8 L446.6 1324.8 L452.8 1324.7 L459.1 1324.7 L465.4 1324.7 L471.6 1324.7 L477.9 1324.7 L484.2 1324.7 L490.4 1324.7 L496.7 1324.7 L503.0 1324.7 L509.2 1324.8 L515.5 1324.8 L521.8 1324.8 L528.1 1324.9 L534.4 1324.9 L540.7 1324.9 L546.9 1324.9 L553.2 1324.9 L559.5 1324.8 L565.8 1324.6 L572.0 1324.3 L578.3 1324.0 L584.5 1323.6 L590.7 1323.0 L596.9 1322.3 L603.1 1321.5 L609.3 1320.5 L615.4 1319.4 L621.5 1318.1 L627.6 1316.7 L633.7 1315.0 L639.7 1313.2 L645.7 1311.2 L651.6 1309.0 L657.5 1306.7 L663.2 1304.1 L668.9 1301.4 L674.5 1298.7 L680.1 1296.0 L685.8 1293.4 L691.5 1291.0 L697.3 1288.9 L703.1 1287.3 L709.1 1286.0 L715.2 1285.0 L721.4 1284.2 L727.6 1283.7 L733.8 1283.2 L740.1 1282.8 L746.4 1282.6 L752.7 1282.4 L758.9 1282.2 L765.2 1282.1 L771.6 1282.1 L777.9 1282.1 L784.2 1282.1 L790.4 1282.2 L796.7 1282.3 L803.0 1282.4 L809.3 1282.6 L815.5 1282.8 L821.8 1283.1 L828.0 1283.4 L834.3 1283.7 L840.5 1284.2 L846.8 1284.6 L853.0 1285.1 L859.2 1285.7 L865.4 1286.4 L871.6 1287.1 L877.9 1287.8 L884.1 1288.7 L890.3 1289.5 L896.5 1290.4 L902.7 1291.3 L908.8 1292.3 L915.0 1293.3 L921.2 1294.3 L927.4 1295.3 L933.6 1296.3 L939.8 1297.3 L946.0 1298.4 L952.2 1299.4 L958.4 1300.4 L964.5 1301.4 L970.7 1302.4 L976.9 1303.4 L983.1 1304.4 L989.3 1305.3 L995.5 1306.2 L1001.7 1307.0 L1008.0 1307.8 L1014.2 1308.6 L1020.4 1309.4 L1026.6 1310.1 L1032.8 1310.8 L1039.1 1311.5 L1045.3 1312.1 L1051.5 1312.8 L1057.8 1313.4 L1064.0 1313.9 L1070.2 1314.5 L1076.5 1315.0 L1082.7 1315.5 L1089.0 1315.9 L1095.2 1316.4 L1101.5 1316.8 L1107.7 1317.2 L1114.0 1317.6 L1120.2 1317.9 L1126.5 1318.2 L1132.7 1318.6 L1139.0 1318.8 L1145.3 1319.1 L1151.5 1319.4 L1157.8 1319.6 L1164.1 1319.8 L1170.3 1320.0 L1176.6 1320.2 L1182.9 1320.4 L1189.1 1320.5 L1195.4 1320.7 L1201.7 1320.8 L1207.9 1320.9 L1214.2 1321.0 L1220.5 1321.1 L1226.8 1321.2 L1233.0 1321.2 L1239.3 1321.3 L1245.6 1321.3 L1251.8 1321.4 L1258.1 1321.4 L1264.4 1321.4 L1270.7 1321.4 L1276.9 1321.4 L1283.2 1321.4 L1289.5 1321.4 L1295.8 1321.4 L1302.0 1321.3 L1308.3 1321.3 L1314.6 1321.3 L1320.8 1321.2 L1327.1 1321.2 L1333.4 1321.2 L1339.6 1321.1 L1345.9 1321.1 L1352.2 1321.0 L1358.4 1321.0 L1364.7 1320.9 L1370.9 1320.9 L1377.2 1320.8 L1383.5 1320.7 L1389.7 1320.7 L1396.0 1320.6 L1402.2 1320.5 L1408.5 1320.5 L1414.7 1320.4 L1421.0 1320.3 L1427.3 1320.2 L1433.5 1320.1 L1439.8 1320.0 L1446.0 1319.9 L1452.3 1319.8 L1458.6 1319.7 L1464.8 1319.6 L1471.1 1319.4 L1477.4 1319.3 L1483.6 1319.1 L1489.9 1319.0 L1496.2 1318.8 L1502.5 1318.6 L1508.7 1318.4 L1515.0 1318.2 L1521.3 1318.0 L1527.6 1317.7 L1533.9 1317.5 L1540.2 1317.1 L1546.4 1316.7 L1552.7 1316.1 L1558.9 1315.3 L1565.1 1314.4 L1571.3 1313.2 L1577.4 1311.7 L1583.3 1309.9 L1589.0 1307.7 L1594.5 1305.1 L1599.7 1301.9 L1604.5 1298.3 L1609.1 1294.3 L1613.4 1289.9 L1617.5 1285.2 L1621.3 1280.2 L1624.9 1275.0 L1628.4 1269.6 L1631.7 1264.1 L1634.8 1258.6 L1637.9 1253.0 L1640.9 1247.4 L1643.7 1241.7 L1646.4 1236.1 L1649.1 1230.4 L1651.7 1224.6 L1654.2 1218.9 L1656.6 1213.1 L1658.9 1207.3 L1661.2 1201.5 L1663.5 1195.7 L1665.7 1189.8 L1667.8 1184.0 L1670.0 1178.1 L1672.1 1172.2 L1674.1 1166.3 L1676.2 1160.4 L1678.2 1154.5 L1680.3 1148.6 L1682.3 1142.7 L1684.4 1136.8 L1686.5 1130.9 L1688.5 1125.0 L1690.6 1119.1 L1692.7 1113.2 L1694.8 1107.3 L1696.9 1101.4 L1698.9 1095.4 L1701.0 1089.5 L1703.1 1083.6 L1705.1 1077.7 L1707.2 1071.7 L1709.2 1065.8 L1711.2 1059.8 L1713.2 1053.9 L1715.2 1047.9 L1717.2 1042.0 L1719.2 1036.0 L1721.1 1030.1 L1723.0 1024.1 L1724.9 1018.1 L1726.7 1012.1 L1728.5 1006.1 L1730.3 1000.1 L1732.1 994.1 L1733.8 988.0 L1735.5 982.0 L1737.1 975.9 L1738.7 969.9 L1740.3 963.8 L1741.8 957.8 L1743.3 951.7 L1744.8 945.6 L1746.3 939.5 L1747.7 933.4 L1749.1 927.3 L1750.5 921.2 L1751.8 915.1 L1753.2 908.9 L1754.5 902.8 L1755.8 896.7 L1757.1 890.5 L1758.4 884.4 L1759.7 878.3 L1761.0 872.1 L1762.2 866.0 L1763.5 859.9 L1764.8 853.7 L1766.0 847.6 L1767.3 841.4 L1768.5 835.3 L1769.8 829.2 L1771.1 823.0 L1772.4 816.9 L1773.7 810.8 L1775.0 804.7 L1776.3 798.5 L1777.6 792.4 L1779.0 786.3 L1780.3 780.2 L1781.7 774.1 L1783.1 768.0 L1784.5 761.9 L1785.9 755.8 L1787.4 749.7 L1788.8 743.6 L1790.3 737.6 L1791.8 731.5 L1793.3 725.4 L1794.8 719.3 L1796.3 713.3 L1797.9 707.2 L1799.4 701.2 L1801.0 695.1 L1802.6 689.1 L1804.2 683.0 L1805.9 677.0 L1807.5 670.9 L1809.2 664.9 L1810.9 658.9 L1812.6 652.8 L1814.3 646.8 L1816.1 640.8 L1817.8 634.7 L1819.6 628.7 L1821.4 622.7 L1823.2 616.7 L1825.1 610.7 L1827.0 604.7 L1828.8 598.7 L1830.7 592.7 L1832.7 586.7 L1834.6 580.7 L1836.6 574.7 L1838.6 568.8 L1840.7 562.8 L1842.7 556.9 L1844.8 550.9 L1847.0 545.0 L1849.1 539.1 L1851.3 533.2 L1853.5 527.3 L1855.8 521.5 L1858.1 515.6 L1860.4 509.8 L1862.8 504.0 L1865.2 498.2 L1867.6 492.4 L1870.1 486.6 L1872.6 480.9 L1875.2 475.2 L1877.8 469.5 L1880.4 463.8 L1883.1 458.2 L1885.9 452.6 L1888.6 447.0 L1891.5 441.4 L1894.4 435.9 L1897.3 430.3 L1900.3 424.9 L1903.3 419.4 L1906.4 414.0 L1909.5 408.6 L1912.7 403.2 L1915.9 397.9 L1919.2 392.6 L1922.6 387.4 L1926.0 382.1 L1929.5 376.9 L1933.0 371.8 L1936.6 366.7 L1940.2 361.6 L1943.9 356.6 L1947.7 351.6 L1951.6 346.6 L1955.5 341.7 L1959.5 336.9 L1963.6 332.2 L1967.9 327.7 L1972.5 323.6 L1977.3 319.9 L1982.5 316.6 L1988.0 313.8 L1993.8 311.4 L1999.8 309.3 L2006.0 307.6 L2012.2 306.2 L2018.6 304.9 L2024.9 303.8 L2031.2 302.9 L2037.5 302.1 L2048.0 300.9 L2060.0 300.0 L2160.0 292.5 L2250.0 285.8" stroke="#FF9434"/>
<path d="M327.5 1325.6 L333.8 1325.6 L340.0 1325.5 L346.3 1325.5 L352.5 1325.5 L358.8 1325.5 L365.1 1325.5 L371.3 1325.6 L377.6 1325.6 L383.9 1325.6 L390.2 1325.6 L396.4 1325.7 L402.7 1325.7 L409.0 1325.7 L415.3 1325.7 L421.5 1325.7 L427.8 1325.7 L434.1 1325.7 L440.3 1325.7 L446.6 1325.6 L452.8 1325.6 L459.1 1325.5 L465.3 1325.5 L471.6 1325.4 L477.9 1325.4 L484.1 1325.3 L490.4 1325.3 L496.6 1325.3 L502.9 1325.4 L509.1 1325.4 L515.4 1325.5 L521.7 1325.6 L527.9 1325.8 L534.2 1326.0 L540.5 1326.2 L546.8 1326.5 L553.1 1326.8 L559.4 1327.1 L565.6 1327.3 L571.9 1327.5 L578.2 1327.6 L584.4 1327.5 L590.7 1327.3 L596.9 1327.0 L603.1 1326.4 L609.2 1325.6 L615.4 1324.5 L621.5 1323.3 L627.6 1321.8 L633.6 1320.2 L639.7 1318.5 L645.7 1316.6 L651.7 1314.6 L657.6 1312.5 L663.6 1310.3 L669.5 1308.2 L675.4 1306.0 L681.3 1303.9 L687.2 1301.9 L693.1 1300.0 L699.1 1298.4 L705.1 1297.0 L711.2 1295.9 L717.3 1295.0 L723.4 1294.2 L729.6 1293.6 L735.8 1293.1 L742.0 1292.7 L748.3 1292.3 L754.5 1292.1 L760.8 1292.0 L767.1 1292.0 L773.4 1292.0 L779.7 1292.1 L786.0 1292.3 L792.2 1292.6 L798.5 1292.9 L804.8 1293.3 L811.1 1293.7 L817.4 1294.2 L823.6 1294.7 L829.9 1295.2 L836.2 1295.8 L842.4 1296.5 L848.6 1297.1 L854.9 1297.8 L861.1 1298.5 L867.3 1299.3 L873.6 1300.0 L879.8 1300.8 L886.0 1301.6 L892.2 1302.4 L898.4 1303.2 L904.6 1304.0 L910.8 1304.8 L917.0 1305.6 L923.3 1306.5 L929.5 1307.3 L935.7 1308.0 L941.9 1308.8 L948.1 1309.6 L954.3 1310.3 L960.5 1311.0 L966.7 1311.7 L973.0 1312.4 L979.2 1313.0 L985.4 1313.6 L991.6 1314.2 L997.9 1314.8 L1004.1 1315.3 L1010.3 1315.8 L1016.6 1316.3 L1022.8 1316.8 L1029.0 1317.3 L1035.3 1317.7 L1041.5 1318.1 L1047.8 1318.5 L1054.0 1318.9 L1060.3 1319.3 L1066.5 1319.6 L1072.8 1319.9 L1079.0 1320.2 L1085.3 1320.5 L1091.5 1320.8 L1097.8 1321.1 L1104.0 1321.3 L1110.3 1321.6 L1116.6 1321.8 L1122.8 1322.0 L1129.1 1322.2 L1135.3 1322.4 L1141.6 1322.5 L1147.9 1322.7 L1154.1 1322.8 L1160.4 1323.0 L1166.7 1323.1 L1172.9 1323.2 L1179.2 1323.3 L1185.5 1323.4 L1191.8 1323.5 L1198.0 1323.6 L1204.3 1323.7 L1210.6 1323.7 L1216.8 1323.8 L1223.1 1323.8 L1229.4 1323.9 L1235.7 1323.9 L1241.9 1324.0 L1248.2 1324.0 L1254.5 1324.0 L1260.7 1324.1 L1267.0 1324.1 L1273.3 1324.1 L1279.6 1324.1 L1285.8 1324.2 L1292.1 1324.2 L1298.4 1324.2 L1304.6 1324.2 L1310.9 1324.2 L1317.2 1324.3 L1323.4 1324.3 L1329.7 1324.3 L1336.0 1324.3 L1342.2 1324.3 L1348.5 1324.4 L1354.8 1324.4 L1361.0 1324.4 L1367.3 1324.3 L1373.6 1324.3 L1379.8 1324.2 L1386.1 1324.2 L1392.3 1324.1 L1398.6 1323.9 L1404.8 1323.8 L1411.1 1323.6 L1417.3 1323.3 L1423.6 1323.1 L1429.8 1322.8 L1436.1 1322.4 L1442.3 1322.0 L1448.6 1321.7 L1454.8 1321.3 L1461.1 1320.9 L1467.3 1320.5 L1473.5 1320.1 L1479.8 1319.8 L1486.0 1319.4 L1492.3 1319.2 L1498.5 1318.9 L1504.8 1318.8 L1511.1 1318.7 L1517.3 1318.6 L1523.6 1318.6 L1530.0 1318.5 L1536.3 1318.5 L1542.7 1318.5 L1549.2 1318.4 L1555.7 1318.3 L1562.1 1318.0 L1568.4 1317.4 L1574.7 1316.6 L1580.7 1315.4 L1586.5 1313.7 L1592.0 1311.5 L1597.2 1308.7 L1602.2 1305.4 L1606.8 1301.5 L1611.2 1297.3 L1615.4 1292.8 L1619.4 1288.0 L1623.3 1283.0 L1627.0 1277.8 L1630.6 1272.5 L1634.2 1267.3 L1637.6 1262.0 L1641.0 1256.6 L1644.3 1251.2 L1647.5 1245.8 L1650.6 1240.3 L1653.6 1234.9 L1656.6 1229.3 L1659.5 1223.8 L1662.4 1218.2 L1665.2 1212.6 L1667.9 1207.0 L1670.6 1201.3 L1673.2 1195.6 L1675.7 1189.9 L1678.2 1184.2 L1680.6 1178.4 L1683.0 1172.6 L1685.3 1166.8 L1687.6 1161.0 L1689.9 1155.2 L1692.1 1149.3 L1694.2 1143.4 L1696.4 1137.6 L1698.4 1131.7 L1700.5 1125.7 L1702.5 1119.8 L1704.5 1113.9 L1706.5 1107.9 L1708.4 1102.0 L1710.3 1096.0 L1712.2 1090.0 L1714.1 1084.0 L1716.0 1078.0 L1717.8 1072.0 L1719.7 1066.0 L1721.5 1060.0 L1723.3 1054.0 L1725.1 1048.0 L1726.9 1042.0 L1728.7 1036.0 L1730.6 1030.0 L1732.4 1024.0 L1734.2 1018.0 L1736.0 1012.0 L1737.8 1006.0 L1739.5 1000.0 L1741.3 994.0 L1743.1 988.0 L1744.8 982.0 L1746.5 976.0 L1748.2 970.0 L1749.8 963.9 L1751.4 957.9 L1753.0 951.8 L1754.6 945.8 L1756.1 939.7 L1757.6 933.6 L1759.0 927.5 L1760.4 921.4 L1761.7 915.3 L1763.1 909.2 L1764.4 903.0 L1765.6 896.9 L1766.9 890.7 L1768.1 884.6 L1769.4 878.4 L1770.6 872.3 L1771.8 866.1 L1773.0 860.0 L1774.3 853.8 L1775.5 847.7 L1776.8 841.5 L1778.0 835.4 L1779.3 829.2 L1780.6 823.1 L1781.9 817.0 L1783.2 810.9 L1784.6 804.7 L1785.9 798.6 L1787.3 792.5 L1788.6 786.4 L1790.0 780.3 L1791.4 774.2 L1792.8 768.1 L1794.3 762.0 L1795.7 755.9 L1797.1 749.8 L1798.6 743.8 L1800.1 737.7 L1801.6 731.6 L1803.1 725.5 L1804.6 719.4 L1806.1 713.4 L1807.7 707.3 L1809.2 701.2 L1810.8 695.2 L1812.4 689.1 L1814.0 683.1 L1815.6 677.0 L1817.3 671.0 L1818.9 664.9 L1820.6 658.9 L1822.3 652.8 L1824.0 646.8 L1825.7 640.7 L1827.4 634.7 L1829.2 628.7 L1831.0 622.7 L1832.8 616.7 L1834.6 610.6 L1836.4 604.6 L1838.3 598.7 L1840.2 592.7 L1842.1 586.7 L1844.0 580.7 L1846.0 574.8 L1848.0 568.8 L1850.0 562.9 L1852.1 557.0 L1854.2 551.0 L1856.3 545.1 L1858.4 539.3 L1860.6 533.4 L1862.8 527.5 L1865.0 521.7 L1867.3 515.8 L1869.6 510.0 L1872.0 504.2 L1874.3 498.4 L1876.8 492.6 L1879.2 486.9 L1881.7 481.1 L1884.2 475.4 L1886.8 469.7 L1889.4 464.0 L1892.0 458.4 L1894.7 452.7 L1897.4 447.1 L1900.2 441.5 L1903.0 435.9 L1905.9 430.3 L1908.8 424.8 L1911.8 419.3 L1914.7 413.8 L1917.8 408.3 L1920.9 402.8 L1924.0 397.4 L1927.2 392.0 L1930.5 386.6 L1933.7 381.3 L1937.1 375.9 L1940.5 370.6 L1943.9 365.4 L1947.4 360.1 L1951.0 354.9 L1954.6 349.7 L1958.3 344.7 L1962.1 339.7 L1966.1 335.0 L1970.3 330.4 L1974.7 326.2 L1979.3 322.3 L1984.3 318.8 L1989.4 315.6 L1994.9 312.8 L2000.5 310.4 L2006.3 308.3 L2012.2 306.4 L2018.3 304.9 L2024.4 303.5 L2030.6 302.4 L2036.9 301.5 L2048.0 300.9 L2060.0 300.0 L2160.0 292.5 L2250.0 285.8" stroke="#174A80"/>
</g>
<g class="t">
<text x="130.4" y="69.4">0.<tspan dx="20">60</tspan></text>
<text x="130.4" y="290.1">0.<tspan dx="20">50</tspan></text>
<text x="130.4" y="510.8">0.<tspan dx="20">40</tspan></text>
<text x="130.4" y="731.5">0.<tspan dx="20">30</tspan></text>
<text x="130.4" y="952.1">0.<tspan dx="20">20</tspan></text>
<text x="130.4" y="1172.8">0.<tspan dx="20">10</tspan></text>
<text x="130.4" y="1393.5">0.<tspan dx="20">00</tspan></text>
<text x="305.0" y="1461.2" text-anchor="middle">451</text>
<text x="468.5" y="1461.2" text-anchor="middle">482</text>
<text x="625.0" y="1461.2" text-anchor="middle">512</text>
<text x="785.0" y="1461.2" text-anchor="middle">543</text>
<text x="942.0" y="1461.2" text-anchor="middle">573</text>
<text x="1103.3" y="1461.2" text-anchor="middle">604</text>
<text x="1263.0" y="1461.2" text-anchor="middle">635</text>
<text x="1419.4" y="1461.2" text-anchor="middle">665</text>
<text x="1580.0" y="1461.2" text-anchor="middle">696</text>
<text x="1737.0" y="1461.2" text-anchor="middle">726</text>
<text x="1898.0" y="1461.2" text-anchor="middle">757</text>
<text x="2059.2" y="1461.2" text-anchor="middle">788</text>
<text x="2204.2" y="1461.2" text-anchor="middle">816</text>
</g>
<g>
<rect x="422.5" y="203.9" width="143.8" height="14.2" rx="5" ry="5" fill="#000000"/>
<rect x="422.5" y="322.8" width="143.8" height="14.2" rx="5" ry="5" fill="#DB464D"/>
<rect x="422.5" y="441.6" width="143.8" height="14.2" rx="5" ry="5" fill="#84BC4B"/>
<rect x="422.5" y="560.5" width="143.8" height="14.2" rx="5" ry="5" fill="#87639C"/>
<rect x="422.5" y="679.4" width="143.8" height="14.2" rx="5" ry="5" fill="#FFFF00"/>
<rect x="422.5" y="798.2" width="143.8" height="14.2" rx="5" ry="5" fill="#FF9434"/>
<rect x="422.5" y="917.1" width="143.8" height="14.2" rx="5" ry="5" fill="#174A80"/>
</g>
<g class="t">
<text x="574.5" y="231.5">c<tspan dx="4.5">h110</tspan></text>
<text x="574.5" y="350.4">c<tspan dx="4.5">h120</tspan></text>
<text x="574.5" y="469.2">c<tspan dx="4.5">h130</tspan></text>
<text x="574.5" y="588.1">c<tspan dx="4.5">h140</tspan></text>
<text x="574.5" y="707.0">c<tspan dx="4.5">h150</tspan></text>
<text x="574.5" y="825.9">c<tspan dx="4.5">h160</tspan></text>
<text x="574.5" y="944.7">c<tspan dx="4.5">h170</tspan></text>
</g>
<text class="b" font-size="95" x="943" y="1583.5" textLength="690" lengthAdjust="spacingAndGlyphs">Wavelength (nm)</text>
<text class="b" font-size="92" transform="translate(90.6 946) rotate(-90)" textLength="477" lengthAdjust="spacingAndGlyphs">Reflentance</text>
</svg>
</body>
</html>
